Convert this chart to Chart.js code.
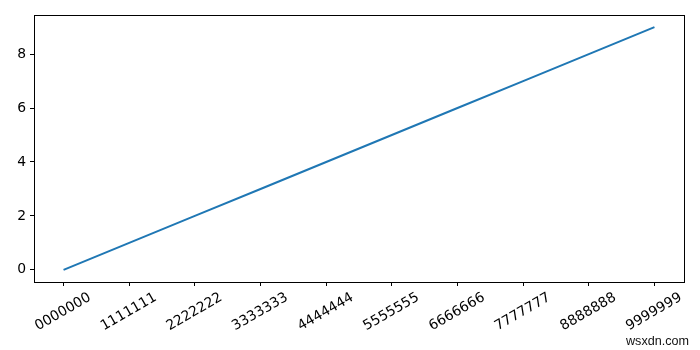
<!DOCTYPE html>
<html>
<head>
<meta charset="utf-8">
<script src="https://cdn.jsdelivr.net/npm/chart.js@4"></script>
<style>
  body { margin: 0; background: #fff; }
  canvas { display: block; }
</style>
</head>
<body>
<canvas id="chart" width="700" height="350"></canvas>
<script>
// data
const xValues = [0, 1, 2, 3, 4, 5, 6, 7, 8, 9];
const yValues = [0, 1, 2, 3, 4, 5, 6, 7, 8, 9];
const xTickLabels = ['0000000', '1111111', '2222222', '3333333', '4444444',
  '5555555', '6666666', '7777777', '8888888', '9999999'];
const yTicks = [0, 2, 4, 6, 8];
const watermark = 'wsxdn.com';

const FONT = '"DejaVu Sans", sans-serif';

// frame + rotated, centred x labels (matplotlib style)
const mplPlugin = {
  id: 'mpl',
  afterDraw(chart) {
    const ctx = chart.ctx;
    const area = chart.chartArea;
    const xs = chart.scales.x;
    ctx.save();
    ctx.strokeStyle = '#000';
    ctx.lineWidth = 1;
    ctx.strokeRect(Math.round(area.left) + 0.5, Math.round(area.top) + 0.5,
      Math.round(area.right - area.left), Math.round(area.bottom - area.top));

    ctx.fillStyle = '#000';
    ctx.font = '13.9px ' + FONT;
    ctx.textAlign = 'center';
    ctx.textBaseline = 'middle';
    xValues.forEach((v, i) => {
      const px = xs.getPixelForValue(v);
      ctx.save();
      ctx.translate(px - 0.5, area.bottom + 30);
      ctx.rotate(-Math.PI / 6);
      ctx.fillText(xTickLabels[i], 0, 0);
      ctx.restore();
    });

    // site watermark
    ctx.fillStyle = '#111';
    ctx.font = '12.6px "Liberation Sans", Arial, sans-serif';
    ctx.textAlign = 'right';
    ctx.textBaseline = 'alphabetic';
    ctx.fillText(watermark, 689, 345);
    ctx.restore();
  }
};

new Chart(document.getElementById('chart'), {
  type: 'line',
  data: {
    datasets: [{
      data: xValues.map((x, i) => ({x: x, y: yValues[i]})),
      borderColor: '#1f77b4',
      borderWidth: 2,
      pointRadius: 0,
      tension: 0,
      fill: false
    }]
  },
  options: {
    responsive: false,
    animation: false,
    layout: { padding: { left: 0, top: 15, right: 16, bottom: 0 } },
    plugins: { legend: { display: false }, tooltip: { enabled: false } },
    scales: {
      x: {
        type: 'linear',
        min: -0.45,
        max: 9.45,
        afterBuildTicks: (s) => { s.ticks = xValues.map(v => ({value: v})); },
        afterFit: (s) => { s.height = 68; },
        grid: { drawOnChartArea: false, drawTicks: true, tickLength: 4, color: '#000' },
        border: { display: true, color: '#000' },
        ticks: { display: false }
      },
      y: {
        type: 'linear',
        min: -0.45,
        max: 9.45,
        afterBuildTicks: (s) => { s.ticks = yTicks.map(v => ({value: v})); },
        afterFit: (s) => { s.width = 34; },
        grid: { drawOnChartArea: false, drawTicks: true, tickLength: 4, color: '#000' },
        border: { display: true, color: '#000' },
        ticks: { color: '#000', padding: 4, font: { family: FONT, size: 13.9 } }
      }
    }
  },
  plugins: [mplPlugin]
});
</script>
</body>
</html>
